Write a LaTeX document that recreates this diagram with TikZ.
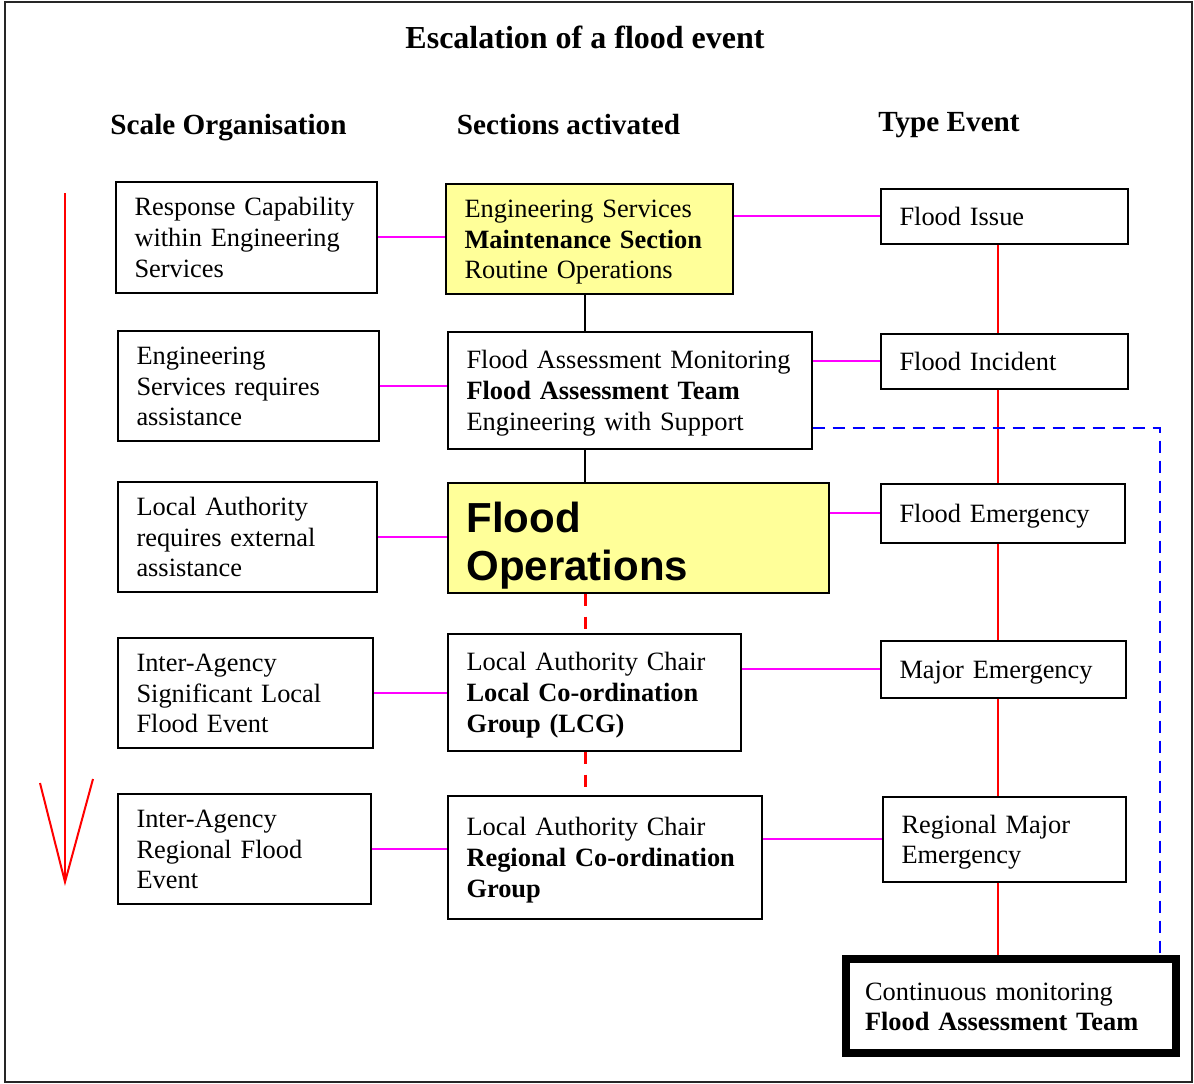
\documentclass[tikz,border=0pt]{standalone}
\usepackage{fontspec}
\setmainfont{Liberation Serif}
\setsansfont{Liberation Sans}
\usetikzlibrary{positioning,calc}
\definecolor{boxyellow}{RGB}{255,255,153}
\definecolor{linkpink}{RGB}{255,0,255}

\begin{document}
\begin{tikzpicture}[x=1pt,y=1pt,yscale=-1,xscale=1,
  box/.style={draw, line width=2pt, inner xsep=19pt, inner ysep=0pt, align=left,
    font=\fontsize{26.4}{30.7}\selectfont,
    execute at begin node={\rule{0pt}{25.5pt}},
    execute at end node={\rule[-6.5pt]{0pt}{6.5pt}}},
  heading/.style={font=\bfseries\fontsize{29.2}{34}\selectfont, text depth=0pt},
  linkline/.style={draw=linkpink, line width=2pt},
  chainline/.style={draw=red, line width=2pt},
  stepline/.style={draw=red, line width=3pt, dash pattern=on 12pt off 11pt},
  fatline/.style={draw=blue, line width=2pt, dash pattern=on 12pt off 8pt}]
\useasboundingbox (0,0) rectangle (1194,1084);

%Shape: Frame
\draw [line width=2pt, black!85] (5,2) rectangle (1192,1082) ;

% Text Node
\node [font=\bfseries\fontsize{32}{38}\selectfont] (title) at (585,37) {Escalation of a flood event};
% Text Node
\node [heading] (scalehead) at (228.5,124) {Scale Organisation};
% Text Node
\node [heading] (secthead) at (568.5,124) {Sections activated};
% Text Node
\node [heading] (typehead) at (949,122) {Type Event};

%Shape: Red arrow
\draw [red, line width=2pt] (65,193) -- (65,882) ;
\draw [red, line width=2pt] (40,783) -- (65,882) -- (93,779) ;

%Scale Organisation boxes
\node [box, minimum width=261pt, minimum height=111pt, text width=223pt] (resp) at (246,237)
  {Response Capability\\within Engineering\\Services};
\node [box, minimum width=261pt, minimum height=110pt, text width=223pt] (engreq) at (248,385.5)
  {Engineering\\Services requires\\assistance};
\node [box, minimum width=259pt, minimum height=110pt, text width=221pt] (laext) at (247,536.5)
  {Local Authority\\requires external\\assistance};
\node [box, minimum width=255pt, minimum height=110pt, text width=217pt] (iasig) at (245,692.5)
  {Inter-Agency\\Significant Local\\Flood Event};
\node [box, minimum width=253pt, minimum height=110pt, text width=215pt] (iareg) at (244,848.5)
  {Inter-Agency\\Regional Flood\\Event};

%Sections activated boxes
\node [box, fill=boxyellow, minimum width=287pt, minimum height=110pt, text width=249pt] (maint) at (589,238.5)
  {Engineering Services\\\textbf{Maintenance Section}\\Routine Operations};
\node [box, minimum width=364pt, minimum height=117pt, text width=326pt] (fat) at (629.5,390)
  {Flood Assessment Monitoring\\\textbf{Flood Assessment Team}\\Engineering with Support};
\node [box, fill=boxyellow, minimum width=381pt, minimum height=110pt, text width=343pt,
  font=\sffamily\bfseries\fontsize{42}{48}\selectfont] (floodops) at (638,537.5)
  {\rule{0pt}{46pt}Flood\\Operations};
\node [box, minimum width=293pt, minimum height=117pt, text width=255pt] (lcg) at (594,692)
  {Local Authority Chair\\\textbf{Local Co-ordination}\\\textbf{Group (LCG)}};
\node [box, minimum width=314pt, minimum height=123pt, text width=276pt] (rcg) at (604.5,857)
  {Local Authority Chair\\\textbf{Regional Co-ordination}\\\textbf{Group}};

%Type Event boxes
\node [box, minimum width=247pt, minimum height=55pt, text width=209pt] (issue) at (1004,216) {Flood Issue};
\node [box, minimum width=247pt, minimum height=55pt, text width=209pt] (incident) at (1004,361) {Flood Incident};
\node [box, minimum width=244pt, minimum height=59pt, text width=206pt] (emergency) at (1002.5,513) {Flood Emergency};
\node [box, minimum width=245pt, minimum height=57pt, text width=207pt] (major) at (1003,669) {Major Emergency};
\node [box, minimum width=243pt, minimum height=85pt, text width=205pt] (regmajor) at (1004,839)
  {Regional Major\\Emergency};
\node [box, line width=8pt, minimum width=330pt, minimum height=94pt, text width=292pt] (monitor) at (1011,1006)
  {Continuous monitoring\\\textbf{Flood Assessment Team}};

\coordinate (midline) at (585,0);
\coordinate (rightline) at (998,0);
\coordinate (bluecorner) at (1160,428);

%Straight Lines
\draw [linkline] (resp.east) -- (resp.east -| maint.west) ;
\draw [linkline] (maint.east |- issue.west) -- (issue.west) ;
\draw [linkline] (engreq.east) -- (engreq.east -| fat.west) ;
\draw [linkline] (fat.east |- incident.west) -- (incident.west) ;
\draw [linkline] (laext.east) -- (laext.east -| floodops.west) ;
\draw [linkline] (floodops.east |- emergency.west) -- (emergency.west) ;
\draw [linkline] (iasig.east) -- (iasig.east -| lcg.west) ;
\draw [linkline] (lcg.east |- major.west) -- (major.west) ;
\draw [linkline] (iareg.east) -- (iareg.east -| rcg.west) ;
\draw [linkline] (rcg.east |- regmajor.west) -- (regmajor.west) ;

%Straight Lines
\draw [line width=2pt] (maint.south -| midline) -- (fat.north -| midline) ;
\draw [line width=2pt] (fat.south -| midline) -- (floodops.north -| midline) ;
\draw [stepline] (floodops.south -| midline) -- (lcg.north -| midline) ;
\draw [stepline] (lcg.south -| midline) -- (rcg.north -| midline) ;

%Straight Lines
\draw [chainline] (issue.south -| rightline) -- (incident.north -| rightline) ;
\draw [chainline] (incident.south -| rightline) -- (emergency.north -| rightline) ;
\draw [chainline] (emergency.south -| rightline) -- (major.north -| rightline) ;
\draw [chainline] (major.south -| rightline) -- (regmajor.north -| rightline) ;
\draw [chainline] (regmajor.south -| rightline) -- (monitor.north -| rightline) ;

%Straight Lines
\draw [fatline] (fat.east |- bluecorner) -- (bluecorner) -- (bluecorner |- monitor.north) ;

\end{tikzpicture}
\end{document}
